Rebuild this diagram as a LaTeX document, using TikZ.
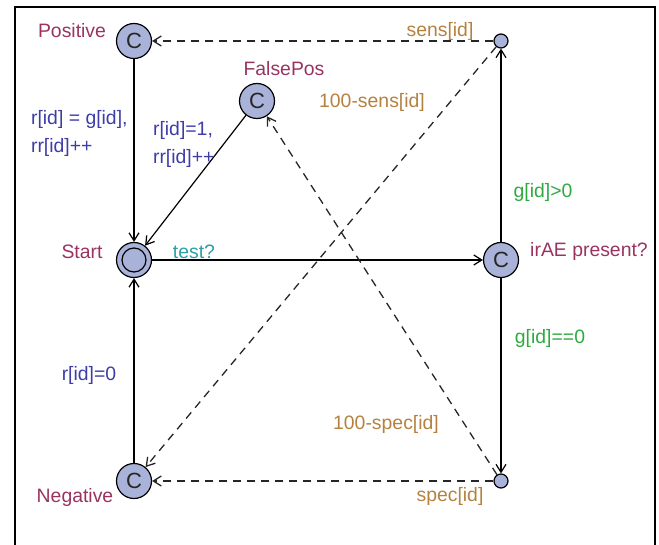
\documentclass[tikz,border=0pt]{standalone}
\usepackage{fontspec}
\setmainfont{Liberation Sans}
\usetikzlibrary{arrows.meta}
\definecolor{locfill}{HTML}{A9B3D9}
\definecolor{locred}{HTML}{993360}
\definecolor{assignblue}{HTML}{3D3DA8}
\definecolor{synccyan}{HTML}{2A9FAA}
\definecolor{guardgreen}{HTML}{2EAA40}
\definecolor{probbrown}{HTML}{B5813F}

\begin{document}
\begin{tikzpicture}[
  x=0.5pt, y=-0.5pt,
  font=\fontsize{9.7}{14}\selectfont,
  >={Straight Barb[length=4pt,width=5pt]},
  loc/.style={circle, draw=black, line width=0.6pt, fill=locfill,
    minimum size=17.5pt, inner sep=0pt, text=black!85,
    font=\fontsize{11}{12}\selectfont},
  branch/.style={circle, draw=black, line width=0.6pt, fill=locfill,
    minimum size=7pt, inner sep=0pt},
  trans/.style={->, line width=0.6pt},
  prob/.style={->, line width=0.65pt, draw=black!85,
    dash pattern=on 4pt off 3pt},
  lname/.style={text=locred},
  assign/.style={text=assignblue, align=left, anchor=west},
  guard/.style={text=guardgreen},
  weight/.style={text=probbrown}
]
\useasboundingbox (0,0) rectangle (659,545);
\draw[line width=1pt] (15,545) -- (15,7) -- (655,7) -- (655,545);

% locations
\node[loc] (positive) at (134,41) {C};
\node[loc] (falsepos) at (257,101) {C};
\node[loc] (start) at (134,260) {};
\draw[line width=0.6pt] (start.center) circle (6pt);
\node[loc] (irae) at (501,260) {C};
\node[loc] (negative) at (134,481) {C};
\node[branch] (brtop) at (501,41) {};
\node[branch] (brbot) at (501,481) {};

\node[lname] (positivename) at (72,31) {Positive};
\node[lname] (falseposname) at (284,69) {FalsePos};
\node[lname] (startname) at (82,252) {Start};
\node[lname] (iraename) at (589,251) {irAE present?};
\node[lname] (negativename) at (75,497) {Negative};

% transitions
\draw[trans] (positive) -- (start);
\draw[trans] (falsepos) -- (start);
\draw[trans] (negative) -- (start);
\draw[trans] (start) -- (irae);
\draw[trans] (irae) -- (brtop);
\draw[trans] (irae) -- (brbot);
\draw[prob] (brtop) -- (positive);
\draw[prob] (brtop) -- (negative);
\draw[prob] (brbot) -- (negative);
\draw[prob] (brbot) -- (falsepos);

% labels
\node[assign] (posupdate) at (24,133) {r[id] = g[id],\\rr[id]++};
\node[assign] (fpupdate) at (146,144) {r[id]=1,\\rr[id]++};
\node[text=assignblue] (negupdate) at (89,375) {r[id]=0};
\node[text=synccyan] (testsync) at (194,252) {test?};
\node[guard] (posguard) at (543,192) {g[id]>0};
\node[guard] (negguard) at (550,338) {g[id]==0};
\node[weight] (sensw) at (440,31) {sens[id]};
\node[weight] (missw) at (372,102) {100-sens[id]};
\node[weight] (fpw) at (386,424) {100-spec[id]};
\node[weight] (specw) at (450,496) {spec[id]};
\end{tikzpicture}
\end{document}
